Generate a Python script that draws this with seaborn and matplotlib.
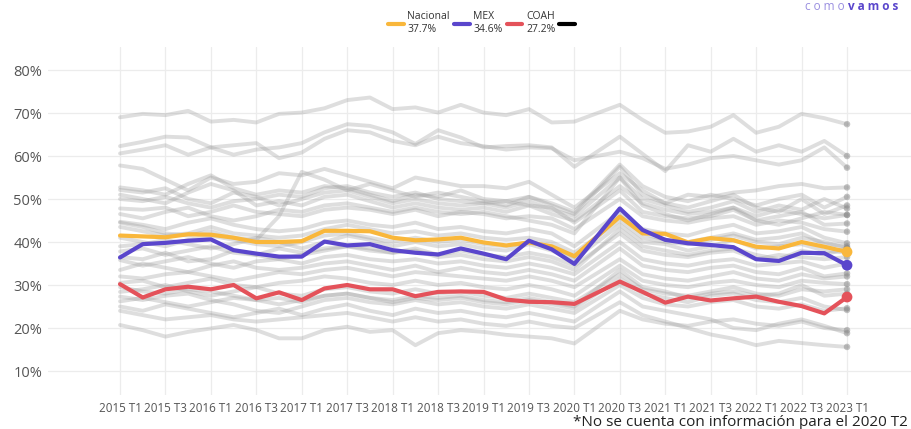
import numpy as np
import pandas as pd
import matplotlib
matplotlib.use("Agg")
import matplotlib.pyplot as plt
import seaborn as sns
from matplotlib.lines import Line2D

nan = np.nan

quarters = [f"{y} T{q}" for y in range(2015, 2024) for q in range(1, 5)][:33]

nacional = [41.5,41.3,41.1,41.8,41.7,41.0,40.0,40.0,40.2,42.6,42.6,42.5,41.0,40.4,40.6,41.0,39.9,39.2,39.9,39.0,36.7,nan,45.9,42.0,41.9,39.9,40.9,40.4,38.9,38.5,40.0,38.9,37.7]
mex = [36.4,39.5,39.8,40.3,40.6,38.1,37.3,36.6,36.6,40.1,39.2,39.5,38.1,37.5,37.1,38.5,37.3,36.0,40.3,38.3,34.9,nan,47.8,42.8,40.5,39.7,39.3,38.8,36.0,35.6,37.5,37.4,34.6]
coah = [30.2,27.1,29.0,29.6,29.0,30.0,26.9,28.3,26.5,29.2,30.0,29.0,29.0,27.4,28.4,28.5,28.4,26.6,26.1,26.0,25.6,nan,30.8,28.4,25.9,27.3,26.4,26.9,27.3,26.1,25.1,23.4,27.2]

g01 = [69.0,69.8,69.5,70.5,68.0,68.4,67.8,69.8,70.1,71.1,73.0,73.6,70.9,71.3,70.1,71.9,70.1,69.5,70.9,67.8,68.0,nan,71.9,68.4,65.4,65.7,66.8,69.5,65.4,66.8,69.8,68.8,67.4]
g02 = [62.3,63.3,64.5,64.3,62.0,60.3,61.5,62.0,63.0,65.5,67.4,67.0,65.5,62.8,66.0,64.3,62.0,62.3,62.5,62.0,57.5,nan,64.5,60.5,56.5,62.5,61.0,64.0,61.0,62.5,61.0,63.5,60.0]
g03 = [60.6,61.5,62.5,60.3,62.0,62.5,63.0,59.5,60.8,64.0,66.0,65.5,63.5,62.5,64.5,63.0,62.3,61.5,62.0,61.8,59.0,nan,61.0,59.5,57.0,58.0,59.5,60.0,59.0,58.0,59.0,62.0,57.3]
g04 = [57.8,57.0,54.5,52.0,55.0,53.5,54.0,56.0,55.5,57.0,55.5,54.0,52.5,55.0,54.0,53.0,53.0,52.5,54.0,51.0,48.0,nan,56.0,52.0,49.0,51.0,50.5,51.5,52.0,53.0,53.5,52.5,52.7]
g05 = [52.7,52.0,51.0,53.5,55.5,52.5,51.0,52.0,51.5,53.0,52.5,51.0,49.5,51.0,50.5,52.0,50.0,49.5,50.5,49.0,47.0,nan,58.0,53.0,50.5,49.5,51.0,50.0,48.5,50.0,51.0,48.0,50.5]
g06 = [52.1,51.5,52.5,50.0,49.0,51.5,50.5,48.5,50.0,51.5,52.0,50.5,49.0,50.0,49.0,48.5,49.0,48.0,49.5,47.5,46.0,nan,55.0,50.0,48.5,47.0,48.0,49.5,47.0,48.5,47.5,50.0,47.8]
g07 = [51.0,50.0,49.0,51.5,53.5,52.0,48.5,49.5,48.5,50.5,51.0,49.5,48.0,49.0,48.0,47.5,48.0,47.0,48.5,46.5,45.0,nan,53.0,49.0,47.5,46.5,47.0,48.0,46.0,47.5,46.5,45.5,46.3]
g08 = [50.0,49.5,50.5,49.0,48.0,49.5,50.0,51.0,50.5,52.5,53.0,51.5,50.5,51.5,50.0,49.5,49.0,49.5,48.5,48.0,44.5,nan,52.0,47.0,46.0,45.5,46.0,47.5,45.0,46.0,47.0,44.0,44.3]
g09 = [44.5,43.5,42.0,41.5,42.5,41.0,40.5,46.0,56.3,54.5,52.0,53.5,52.0,50.5,51.5,50.5,49.5,48.5,50.5,48.5,46.5,nan,57.5,51.0,49.0,48.0,49.5,51.0,48.0,47.0,50.0,46.5,48.5]
g10 = [47.8,47.5,48.0,46.0,47.0,48.5,47.0,46.5,46.0,47.5,48.0,47.5,46.5,47.5,46.0,47.0,46.5,45.5,46.0,45.5,43.0,nan,50.0,46.0,45.0,44.5,45.5,46.0,44.0,45.0,44.5,43.0,42.4]
g11 = [44.7,44.0,43.0,44.5,45.5,44.0,43.0,42.5,43.0,44.5,45.0,44.0,43.5,44.5,43.0,43.5,42.5,42.0,43.0,42.0,39.0,nan,47.0,43.0,42.0,41.5,43.0,44.0,42.0,42.5,43.5,41.0,39.7]
g12 = [43.5,42.5,41.5,42.0,43.5,42.0,41.5,41.0,41.5,43.0,44.0,43.0,42.0,42.5,41.5,42.0,41.0,40.5,41.0,40.0,37.5,nan,45.0,41.0,40.0,39.5,40.5,41.5,40.0,39.5,41.0,40.0,38.6]
g13 = [39.0,39.5,40.5,39.5,38.5,39.5,41.0,40.0,38.5,40.0,41.5,40.5,39.0,40.0,39.0,39.5,38.5,38.0,39.5,38.0,36.0,nan,44.0,40.0,39.5,38.0,39.0,40.5,38.5,39.0,39.5,38.0,37.5]
g14 = [37.8,38.5,37.0,38.0,39.0,37.5,37.0,38.5,37.5,38.5,39.0,38.0,37.5,38.5,37.0,38.0,37.0,36.5,37.5,36.5,34.5,nan,42.0,38.0,37.0,36.5,37.5,38.0,36.0,37.0,36.5,36.0,36.5]
g15 = [35.8,34.5,35.5,36.5,35.0,34.0,35.5,36.0,35.0,36.5,37.0,36.0,35.5,36.0,35.0,35.5,34.5,34.0,35.0,34.0,32.5,nan,40.0,36.0,35.0,34.5,35.5,36.0,34.5,35.0,35.5,34.0,35.0]
g16 = [33.5,35.0,34.0,33.0,34.5,35.5,34.0,33.5,34.0,35.0,35.5,34.5,33.5,34.5,33.0,34.0,33.0,32.5,33.5,32.5,31.0,nan,38.5,34.5,33.5,33.0,34.0,34.5,33.0,32.5,34.0,32.0,32.7]
g17 = [36.5,36.0,37.5,35.5,36.0,38.0,37.0,36.0,37.0,38.0,39.0,38.5,37.5,38.0,36.5,37.0,36.0,35.5,36.5,35.5,33.5,nan,43.0,39.0,38.0,37.0,38.0,38.5,37.0,36.0,38.0,37.0,38.6]
g18 = [30.5,31.0,29.5,30.5,31.5,30.0,29.5,30.5,31.0,32.0,31.5,30.5,30.0,31.0,30.0,30.5,29.5,29.0,30.0,29.0,27.5,nan,34.5,31.0,30.0,29.5,30.5,31.0,30.0,29.5,31.0,30.5,30.2]
g19 = [28.4,29.0,30.0,28.5,27.5,28.5,29.5,28.0,27.5,29.0,29.5,28.5,28.0,29.0,28.0,28.5,27.5,27.0,28.0,27.0,26.0,nan,32.5,29.0,28.0,27.5,28.5,29.5,28.0,27.5,29.0,28.5,29.0]
g20 = [27.3,26.5,27.5,28.0,26.5,25.5,24.0,23.5,25.0,26.5,27.0,26.0,25.5,26.5,25.5,26.0,25.0,24.5,25.5,24.5,23.5,nan,30.0,27.0,25.5,25.0,26.0,26.5,25.0,24.5,25.5,24.0,24.6]
g21 = [26.2,27.0,26.0,25.0,26.0,27.0,26.5,25.5,26.5,27.5,28.0,27.0,26.0,27.0,26.5,27.0,26.0,25.5,26.5,25.5,24.5,nan,31.5,28.0,27.0,26.0,27.5,28.0,26.5,26.0,27.0,25.0,24.2]
g22 = [25.0,24.0,25.5,24.5,23.5,22.5,23.5,24.5,23.0,24.5,25.5,24.0,23.0,24.5,23.5,24.0,23.0,22.5,23.5,22.5,21.5,nan,28.5,25.0,24.0,23.0,22.0,20.0,19.5,21.0,22.0,20.5,18.8]
g23 = [24.0,23.0,22.0,22.5,23.0,22.0,21.5,22.0,22.5,23.0,23.5,22.5,21.5,22.5,21.5,22.0,21.0,20.5,21.5,20.5,20.0,nan,26.0,23.0,21.5,20.0,18.5,17.5,16.0,17.0,16.5,16.0,15.6]
g24 = [20.7,19.5,18.0,19.1,19.9,20.7,19.5,17.6,17.6,19.5,20.3,19.1,19.5,16.0,18.8,19.5,19.1,18.4,18.0,17.6,16.4,nan,24.0,22.0,21.0,20.5,21.5,22.0,21.0,20.5,21.5,20.0,19.5]
g25 = [29.5,28.5,28.0,29.0,28.5,27.5,26.5,27.0,26.0,27.5,28.0,27.0,26.5,27.5,27.0,27.5,26.5,26.0,27.0,26.0,25.0,nan,33.5,29.5,28.5,27.0,28.0,28.5,27.5,28.0,30.0,27.5,28.0]
g26 = [41.0,40.0,39.0,40.5,41.5,40.5,39.5,39.0,40.0,41.5,42.0,41.0,40.0,41.0,40.0,40.5,39.5,39.0,40.0,39.0,36.5,nan,46.0,42.0,40.5,40.0,41.0,42.0,40.5,41.0,42.0,39.5,39.0]
g27 = [46.5,45.5,47.0,48.0,46.0,45.0,46.0,47.5,47.0,48.5,49.0,48.0,47.0,48.0,47.0,46.5,47.0,46.0,45.0,44.0,42.0,nan,55.0,48.5,46.5,45.0,46.5,48.0,45.0,44.0,45.5,47.0,46.3]
g28 = [32.0,31.5,32.5,33.0,32.0,31.0,32.0,33.0,32.5,33.5,34.0,33.0,32.0,33.0,32.5,32.0,31.5,31.0,32.0,31.0,29.5,nan,36.0,32.5,31.5,31.0,32.0,33.0,31.5,31.0,32.5,31.5,32.0]

grays = [g01,g02,g03,g04,g05,g06,g07,g08,g09,g10,g11,g12,g13,g14,g15,g16,g17,g18,g19,g20,g21,g22,g23,g24,g25,g26,g27,g28]

tick_labels = quarters[::2]
legend_labels = ["Nacional\n37.7%", "MEX\n34.6%", "COAH\n27.2%", ""]
colors = {"Nacional": "#F9B73B", "MEX": "#5A46CC", "COAH": "#E4525A"}
footnote = "*No se cuenta con información para el 2020 T2"

# ---- build long frames
idx = np.arange(len(quarters))
rows = []
for k, g in enumerate(grays):
    for i, v in zip(idx, g):
        rows.append({"state": f"g{k}", "idx": i, "value": v})
gdf = pd.DataFrame(rows).dropna()

hrows = []
for name, vals in [("Nacional", nacional), ("MEX", mex), ("COAH", coah)]:
    for i, v in zip(idx, vals):
        hrows.append({"serie": name, "idx": i, "value": v})
hdf = pd.DataFrame(hrows).dropna()

sns.set_theme(style="white")
plt.rcParams["font.family"] = ["Open Sans", "DejaVu Sans"]

fig = plt.figure(figsize=(9.12, 4.29), dpi=100)
ax = fig.add_axes([48/912, 1-395/429, 1-48/912, (395-47)/429])

# grid
for t in range(0, 33, 2):
    ax.axvline(t, color="#ececec", lw=0.9, zorder=0)
for v in range(10, 90, 10):
    ax.axhline(v, color="#ececec", lw=0.9, zorder=0)

sns.lineplot(data=gdf, x="idx", y="value", units="state", estimator=None,
             color="#9a9a9a", alpha=0.32, lw=2.8, ax=ax, legend=False, zorder=2)
last_g = gdf[gdf["idx"] == 32]
sns.scatterplot(data=last_g, x="idx", y="value", color="#8a8a8a", alpha=0.5,
                s=22, edgecolor="none", ax=ax, legend=False, zorder=3)

for name in ["Nacional", "MEX", "COAH"]:
    sub = hdf[hdf["serie"] == name]
    sns.lineplot(data=sub, x="idx", y="value", color=colors[name], lw=3.0,
                 ax=ax, legend=False, zorder=5)
    end = sub[sub["idx"] == 32]
    sns.scatterplot(data=end, x="idx", y="value", color=colors[name], s=60,
                    edgecolor="none", ax=ax, legend=False, zorder=6)

ax.set_xlim(-3.17, 34.86)
ax.set_ylim(4.42, 85.35)
ax.set_xticks(range(0, 33, 2))
ax.set_xticklabels(tick_labels, fontsize=8.4, color="#555555")
ax.set_yticks(range(10, 90, 10))
ax.set_yticklabels([f"{v}%" for v in range(10, 90, 10)], fontsize=10.5, color="#555555")
ax.tick_params(axis="x", length=0, pad=5)
ax.tick_params(axis="y", length=0, pad=4)
ax.set_xlabel("")
ax.set_ylabel("")
for s in ax.spines.values():
    s.set_visible(False)
ax.grid(False)

handles = [Line2D([0], [0], color=colors["Nacional"], lw=3),
           Line2D([0], [0], color=colors["MEX"], lw=3),
           Line2D([0], [0], color=colors["COAH"], lw=3),
           Line2D([0], [0], color="black", lw=3)]
fig.legend(handles, legend_labels, loc="center", bbox_to_anchor=(0.530, 0.946),
           ncol=4, frameon=False, fontsize=7.5, handlelength=1.5,
           handletextpad=0.35, columnspacing=0.4, labelspacing=0.2,
           labelcolor="#333333")

fig.text(805/912, 1-7/429, "c o m o", fontsize=8.5, color="#9a8fe0", va="center", ha="left")
fig.text(848/912, 1-7/429, "v a m o s", fontsize=8.5, color="#5a46cc", va="center",
         ha="left", fontweight="bold")

fig.text(573/912, 1-422/429, footnote, fontsize=11, color="#222222", va="center", ha="left")

fig.savefig("out.png", dpi=100)
